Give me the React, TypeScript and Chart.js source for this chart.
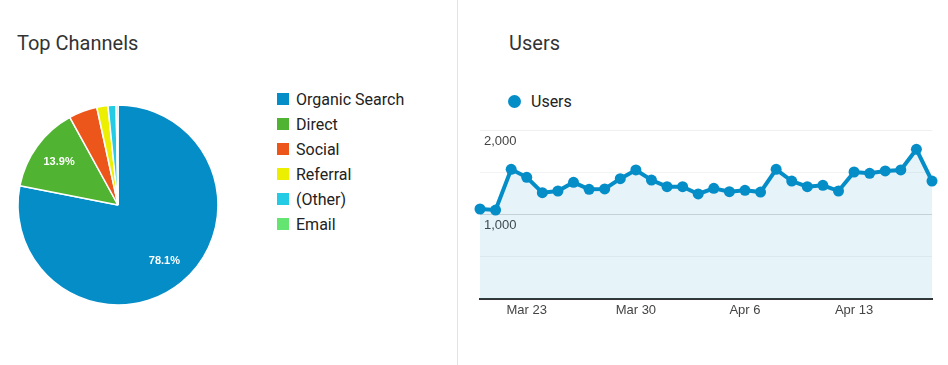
import React, { useEffect, useRef } from "react";
import { Chart, registerables } from "chart.js";

Chart.register(...registerables);

// ---- Data ----
const channelLabels = ["Organic Search", "Direct", "Social", "Referral", "(Other)", "Email"];
const channelValues = [78.1, 13.9, 4.6, 1.8, 1.3, 0.3];
const channelColors = ["#058dc7", "#50b432", "#ed561b", "#edef00", "#24cbe5", "#64e572"];

const dateLabels = [
  "Mar 20", "Mar 21", "Mar 22", "Mar 23", "Mar 24", "Mar 25", "Mar 26", "Mar 27", "Mar 28", "Mar 29",
  "Mar 30", "Mar 31", "Apr 1", "Apr 2", "Apr 3", "Apr 4", "Apr 5", "Apr 6", "Apr 7", "Apr 8",
  "Apr 9", "Apr 10", "Apr 11", "Apr 12", "Apr 13", "Apr 14", "Apr 15", "Apr 16", "Apr 17", "Apr 18",
];
const userValues = [
  1065, 1053, 1535, 1440, 1258, 1278, 1381, 1298, 1302, 1424,
  1527, 1408, 1329, 1329, 1243, 1310, 1270, 1286, 1266, 1535,
  1396, 1329, 1345, 1278, 1503, 1487, 1515, 1527, 1772, 1396,
];
const xTickLabels = ["Mar 23", "Mar 30", "Apr 6", "Apr 13"];
const yTickValues = [1000, 2000];

const FONT = "Roboto, 'Open Sans', sans-serif";
const AXIS_FONT = "Arial, 'Liberation Sans', sans-serif";

const pieLabelPlugin = {
  id: "pieLabels",
  afterDatasetsDraw(chart: any) {
    const meta = chart.getDatasetMeta(0);
    const ctx = chart.ctx;
    const data = chart.data.datasets[0].data as number[];
    const total = data.reduce((a, b) => a + b, 0);
    ctx.save();
    ctx.font = "bold 11px Arial, 'Liberation Sans', sans-serif";
    ctx.fillStyle = "#fff";
    ctx.textAlign = "center";
    ctx.textBaseline = "middle";
    meta.data.forEach((arc: any, i: number) => {
      const pct = (data[i] / total) * 100;
      if (pct < 5) return;
      const mid = (arc.startAngle + arc.endAngle) / 2;
      const r = arc.outerRadius * 0.73;
      const x = arc.x + Math.cos(mid) * r;
      const y = arc.y + Math.sin(mid) * r;
      ctx.fillText(data[i].toFixed(1) + "%", x, y);
    });
    ctx.restore();
  },
};

function PieChart() {
  const ref = useRef<HTMLCanvasElement>(null);
  useEffect(() => {
    const chart = new Chart(ref.current!, {
      type: "pie",
      data: {
        labels: channelLabels,
        datasets: [
          {
            data: channelValues,
            backgroundColor: channelColors,
            borderColor: "#fff",
            borderWidth: 1.5,
            hoverOffset: 0,
            radius: 100,
          } as any,
        ],
      },
      options: {
        animation: false,
        responsive: false,
        events: [],
        layout: { padding: 0 },
        plugins: { legend: { display: false }, tooltip: { enabled: false } },
      },
      plugins: [pieLabelPlugin],
    });
    return () => chart.destroy();
  }, []);
  return (
    <canvas
      ref={ref}
      width={210}
      height={210}
      style={{ position: "absolute", left: 13, top: 100, width: 210, height: 210 }}
    />
  );
}

function LineChart() {
  const ref = useRef<HTMLCanvasElement>(null);
  useEffect(() => {
    const chart = new Chart(ref.current!, {
      type: "line",
      data: {
        labels: dateLabels,
        datasets: [
          {
            label: "Users",
            data: userValues,
            borderColor: "#058dc7",
            backgroundColor: "rgba(5,141,199,0.1)",
            pointBackgroundColor: "#058dc7",
            pointBorderColor: "#058dc7",
            pointBorderWidth: 0,
            pointRadius: 5.5,
            borderWidth: 4,
            fill: "origin",
            tension: 0,
            clip: false as any,
          },
        ],
      },
      options: {
        animation: false,
        responsive: false,
        events: [],
        layout: { padding: { left: 10, right: 13, top: 10, bottom: 0 } },
        plugins: { legend: { display: false }, tooltip: { enabled: false } },
        scales: {
          x: {
            offset: false,
            grid: { display: false, drawTicks: false },
            border: { display: true, color: "#333", width: 2 },
            ticks: {
              autoSkip: false,
              maxRotation: 0,
              padding: 4,
              color: "#444",
              font: { family: AXIS_FONT, size: 13 },
              callback: (_v: any, i: number) =>
                xTickLabels.includes(dateLabels[i]) ? dateLabels[i] : "",
            },
            afterFit: (s: any) => {
              s.height = 26;
              s.paddingLeft = 0;
              s.paddingRight = 0;
            },
          },
          y: {
            min: 0,
            max: 2000,
            grid: {
              drawTicks: false,
              color: (c: any) => {
                const v = c.tick && c.tick.value;
                if (v === 0) return "rgba(0,0,0,0)";
                if (v === 2000) return "#efefef";
                if (v === 1000) return "#dadada";
                return "#f3f3f3";
              },
            },
            border: { display: false },
            ticks: {
              stepSize: 500,
              mirror: true,
              padding: 4,
              labelOffset: 11,
              color: "#444",
              textStrokeColor: "#fff",
              textStrokeWidth: 2,
              font: { family: AXIS_FONT, size: 13 },
              callback: (v: any) => (yTickValues.includes(v) ? Number(v).toLocaleString("en-US") : ""),
            },
            afterFit: (s: any) => {
              s.width = 0;
              s.paddingTop = 0;
              s.paddingBottom = 0;
            },
          },
        },
      },
    });
    return () => chart.destroy();
  }, []);
  return (
    <canvas
      ref={ref}
      width={475}
      height={205}
      style={{ position: "absolute", left: 470, top: 120, width: 475, height: 205 }}
    />
  );
}

export default function App() {
  useEffect(() => {
    document.body.style.margin = "0";
  }, []);
  const title: React.CSSProperties = {
    position: "absolute",
    fontFamily: FONT,
    fontSize: 20,
    lineHeight: "24px",
    color: "#333",
    whiteSpace: "nowrap",
  };
  return (
    <div
      style={{
        position: "fixed",
        left: 0,
        top: 0,
        width: 948,
        height: 365,
        background: "#fff",
        overflow: "hidden",
        fontFamily: FONT,
      }}
    >
      <div style={{ ...title, left: 17, top: 31 }}>Top Channels</div>
      <div style={{ ...title, left: 509, top: 31 }}>Users</div>
      <div
        style={{ position: "absolute", left: 457, top: 0, width: 1, height: 365, background: "#e3e3e3" }}
      />
      <PieChart />
      {channelLabels.map((lab, i) => (
        <React.Fragment key={lab}>
          <div
            style={{
              position: "absolute",
              left: 277,
              top: 93 + i * 25,
              width: 12,
              height: 12,
              background: channelColors[i],
            }}
          />
          <div
            style={{
              position: "absolute",
              left: 296,
              top: 89.5 + i * 25,
              fontSize: 16,
              lineHeight: "20px",
              color: "#222",
              whiteSpace: "nowrap",
            }}
          >
            {lab}
          </div>
        </React.Fragment>
      ))}
      <div
        style={{
          position: "absolute",
          left: 508,
          top: 95,
          width: 13,
          height: 13,
          borderRadius: "50%",
          background: "#058dc7",
        }}
      />
      <div
        style={{
          position: "absolute",
          left: 531,
          top: 92,
          fontSize: 16,
          lineHeight: "20px",
          color: "#222",
          whiteSpace: "nowrap",
        }}
      >
        Users
      </div>
      <LineChart />
    </div>
  );
}
